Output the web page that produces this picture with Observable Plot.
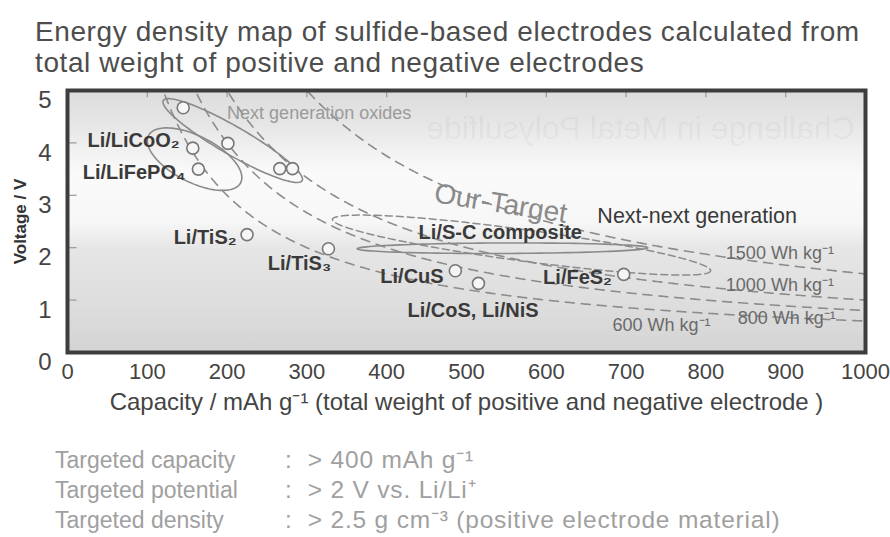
<!DOCTYPE html>
<html>
<head>
<meta charset="utf-8">
<script src="https://cdn.jsdelivr.net/npm/d3@7"></script>
<script src="https://cdn.jsdelivr.net/npm/@observablehq/plot@0.6"></script>
<style>
  html, body { margin: 0; padding: 0; background: #fff; }
  body { width: 890px; height: 537px; overflow: hidden; position: relative; font-family: "Liberation Sans", Arial, sans-serif; }
  #title { position: absolute; left: 35px; top: 16px; font-size: 28px; letter-spacing: 0.6px; line-height: 31px; color: #4d4d4d; white-space: nowrap; }
  #chart { position: absolute; left: 0; top: 80px; }
  #notes { position: absolute; left: 55px; top: 445px; font-size: 23px; line-height: 29px; color: #a0a0a0; white-space: pre; }
  #notes .lbl { display: inline-block; width: 230px; }
  #notes .val { font-size: 24.5px; letter-spacing: 0.8px; }
</style>
</head>
<body>
<div id="title">Energy density map of sulfide-based electrodes calculated from<br>total weight of positive and negative electrodes</div>
<div id="chart"></div>
<div id="notes"></div>
<script>
// ---- data ----
const xTicks = [0, 100, 200, 300, 400, 500, 600, 700, 800, 900, 1000];
const yTicks = [0, 1, 2, 3, 4, 5];

// measured cells (capacity mAh/g, voltage V)
const pointCapacity = [145, 157, 164, 201, 266, 282, 225, 327, 486, 515, 697];
const pointVoltage  = [4.67, 3.9, 3.5, 3.99, 3.51, 3.51, 2.25, 1.98, 1.56, 1.32, 1.49];

// cell labels
const labelText = ["Li/LiCoO₂", "Li/LiFePO₄", "Li/TiS₂", "Li/TiS₃", "Li/CuS", "Li/CoS, Li/NiS", "Li/FeS₂", "Li/S-C composite"];
const labelCapacity = [25, 19, 133, 251, 392, 426, 596, 440];
const labelVoltage  = [4.05, 3.44, 2.19, 1.70, 1.45, 0.80, 1.43, 2.29];

// iso energy-density lines (Wh/kg)
const energyLevels = [600, 800, 1000, 1500];
const energyLabel = ["600 Wh kg⁻¹", "800 Wh kg⁻¹", "1000 Wh kg⁻¹", "1500 Wh kg⁻¹"];
const energyLabelCapacity = [683, 840, 825, 825];
const energyLabelVoltage  = [0.52, 0.65, 1.28, 1.89];

// region annotations
const regionText = ["Next generation oxides", "Our-Target", "Next-next generation"];
const regionCapacity = [200, 543, 664];
const regionVoltage = [4.56, 2.84, 2.61];

// ellipses: major-axis end points (capacity, voltage) and half width (V)
const ellipseName = ["LiCoO2/LiFePO4", "Next generation oxides", "Our-Target", "Li/S-C composite"];
const ellipseC1 = [101.5, 120, 332, 363];
const ellipseV1 = [4.14, 4.81, 2.54, 1.98];
const ellipseC2 = [217, 294, 806, 727];
const ellipseV2 = [3.24, 3.28, 1.56, 2.0];
const ellipseHalfWidth = [0.44, 0.27, 0.30, 0.1];
const ellipseDashed = [false, false, true, false];

const ghostText = "Challenge in Metal Polysulfide";

const noteLabel = ["Targeted capacity", "Targeted potential", "Targeted density"];
const noteValue = [":  > 400 mAh g⁻¹", ":  > 2 V vs. Li/Li⁺", ":  > 2.5 g cm⁻³ (positive electrode material)"];

// ---- layout ----
const W = 890, mL = 67, mR = 25, mT = 10, plotH = 262, mB = 66;
const plotW = W - mL - mR;
const kx = plotW / 1000, ky = plotH / 5;

// derived tables
const points = pointCapacity.map((c, i) => ({c, v: pointVoltage[i]}));
const labels = labelText.map((t, i) => ({t, c: labelCapacity[i], v: labelVoltage[i]}));
const isoLines = [];
energyLevels.forEach(E => {
  for (let c = E / 5.2; c <= 1000; c += 2) isoLines.push({E, c, v: E / c});
});
const energyLabels = energyLabel.map((t, i) => ({t, c: energyLabelCapacity[i], v: energyLabelVoltage[i]}));
const regions = regionText.map((t, i) => ({t, c: regionCapacity[i], v: regionVoltage[i]}));

function ellipsePts(i) {
  const x1 = ellipseC1[i] * kx, y1 = -ellipseV1[i] * ky;
  const x2 = ellipseC2[i] * kx, y2 = -ellipseV2[i] * ky;
  const cx = (x1 + x2) / 2, cy = (y1 + y2) / 2;
  const a = Math.hypot(x2 - x1, y2 - y1) / 2, b = ellipseHalfWidth[i] * ky;
  const ang = Math.atan2(y2 - y1, x2 - x1);
  const out = [];
  for (let k = 0; k <= 120; k++) {
    const t = (k / 120) * 2 * Math.PI;
    const px = cx + a * Math.cos(t) * Math.cos(ang) - b * Math.sin(t) * Math.sin(ang);
    const py = cy + a * Math.cos(t) * Math.sin(ang) + b * Math.sin(t) * Math.cos(ang);
    out.push({name: ellipseName[i], c: px / kx, v: -py / ky});
  }
  return out;
}
const solidEllipses = [], dashedEllipses = [];
ellipseName.forEach((n, i) => (ellipseDashed[i] ? dashedEllipses : solidEllipses).push(...ellipsePts(i)));

const plot = Plot.plot({
  width: W,
  height: mT + plotH + mB,
  marginLeft: mL, marginRight: mR, marginTop: mT, marginBottom: mB,
  style: {fontFamily: '"Liberation Sans", Arial, sans-serif', background: "transparent", overflow: "visible", color: "#333"},
  x: {domain: [0, 1000]},
  y: {domain: [0, 5]},
  marks: [
    Plot.frame({fill: "url(#bgGrad)", stroke: "none"}),
    Plot.text([ghostText], {x: 718, y: 4.27, text: d => d, fontSize: 32, fill: "#000", fillOpacity: 0.05}),
    Plot.ruleX(xTicks.slice(1, -1), {x: d => d, y1: 5, y2: 4.86, stroke: "#999", strokeWidth: 1.2}),
    Plot.ruleY(yTicks.slice(1, -1), {y: d => d, x1: 0, x2: 12, stroke: "#999", strokeWidth: 1.2}),
    Plot.line(isoLines, {x: "c", y: "v", z: "E", stroke: "#8c8c8c", strokeWidth: 1.6, strokeDasharray: "9,7", clip: true}),
    Plot.line(dashedEllipses, {x: "c", y: "v", z: "name", stroke: "#8c8c8c", strokeWidth: 1.5, strokeDasharray: "7,4", clip: true}),
    Plot.line(solidEllipses, {x: "c", y: "v", z: "name", stroke: "#8a8a8a", strokeWidth: 1.6, clip: true}),
    Plot.dot(points, {x: "c", y: "v", r: 6, stroke: "#777", strokeWidth: 1.6, fill: "#f6f6f6"}),
    Plot.text(labels, {x: "c", y: "v", text: "t", textAnchor: "start", fontSize: 20, fontWeight: "bold", fill: "#3a3a3a"}),
    Plot.text(energyLabels, {x: "c", y: "v", text: "t", textAnchor: "start", fontSize: 18, fill: "#6a6a6a"}),
    Plot.text(regions.slice(0, 1), {x: "c", y: "v", text: "t", textAnchor: "start", fontSize: 18, fill: "#9a9a9a"}),
    Plot.text(regions.slice(1, 2), {x: "c", y: "v", text: "t", textAnchor: "middle", fontSize: 28, fill: "#8a8a8a", rotate: 9}),
    Plot.text(regions.slice(2, 3), {x: "c", y: "v", text: "t", textAnchor: "start", fontSize: 21.5, fill: "#3a3a3a"}),
    Plot.frame({stroke: "#3d3d3d", strokeWidth: 4}),
    Plot.axisX({ticks: xTicks, tickFormat: d => String(d), tickSize: 0, tickPadding: 11, fontSize: 22, label: null, fill: "#444"}),
    Plot.axisX({ticks: [], tickSize: 0, label: "Capacity / mAh g⁻¹ (total weight of positive and negative electrode )", labelAnchor: "center", labelArrow: "none", labelOffset: 57, fontSize: 24, fill: "#444"}),
    Plot.axisY({ticks: yTicks, tickFormat: d => String(d), tickSize: 0, tickPadding: 16, fontSize: 24, dy: 10, label: null, fill: "#444"}),
    Plot.axisY({ticks: [], tickSize: 0, label: "Voltage / V", labelAnchor: "center", labelArrow: "none", labelOffset: 54, fontSize: 17, fontWeight: "bold", fill: "#333"})
  ]
});

// background gradient for the plotting frame
const defs = d3.select(plot).insert("defs", ":first-child");
const grad = defs.append("linearGradient").attr("id", "bgGrad").attr("x1", 0).attr("y1", 0).attr("x2", 0).attr("y2", 1);
[[0, "#dcdcdc"], [0.12, "#e5e5e5"], [0.22, "#f0f0f0"], [0.32, "#fafafa"], [0.5, "#f7f7f7"], [0.6, "#e6e6e6"], [0.8, "#dedede"], [1, "#d4d4d4"]]
  .forEach(([o, c]) => grad.append("stop").attr("offset", o).attr("stop-color", c));

// mirror the show-through ghost text of the scanned page
d3.select(plot).selectAll("text").filter(function () { return this.textContent === ghostText; }).each(function () {
  const g = document.createElementNS("http://www.w3.org/2000/svg", "g");
  this.parentNode.insertBefore(g, this);
  g.appendChild(this);
  g.style.transformBox = "fill-box";
  g.style.transformOrigin = "center";
  g.style.transform = "scaleX(-1)";
});

document.getElementById("chart").appendChild(plot);

const notes = document.getElementById("notes");
noteLabel.forEach((l, i) => {
  const div = document.createElement("div");
  const s = document.createElement("span");
  s.className = "lbl";
  s.textContent = l;
  const v = document.createElement("span");
  v.className = "val";
  v.textContent = noteValue[i];
  div.appendChild(s);
  div.appendChild(v);
  notes.appendChild(div);
});
</script>
</body>
</html>
